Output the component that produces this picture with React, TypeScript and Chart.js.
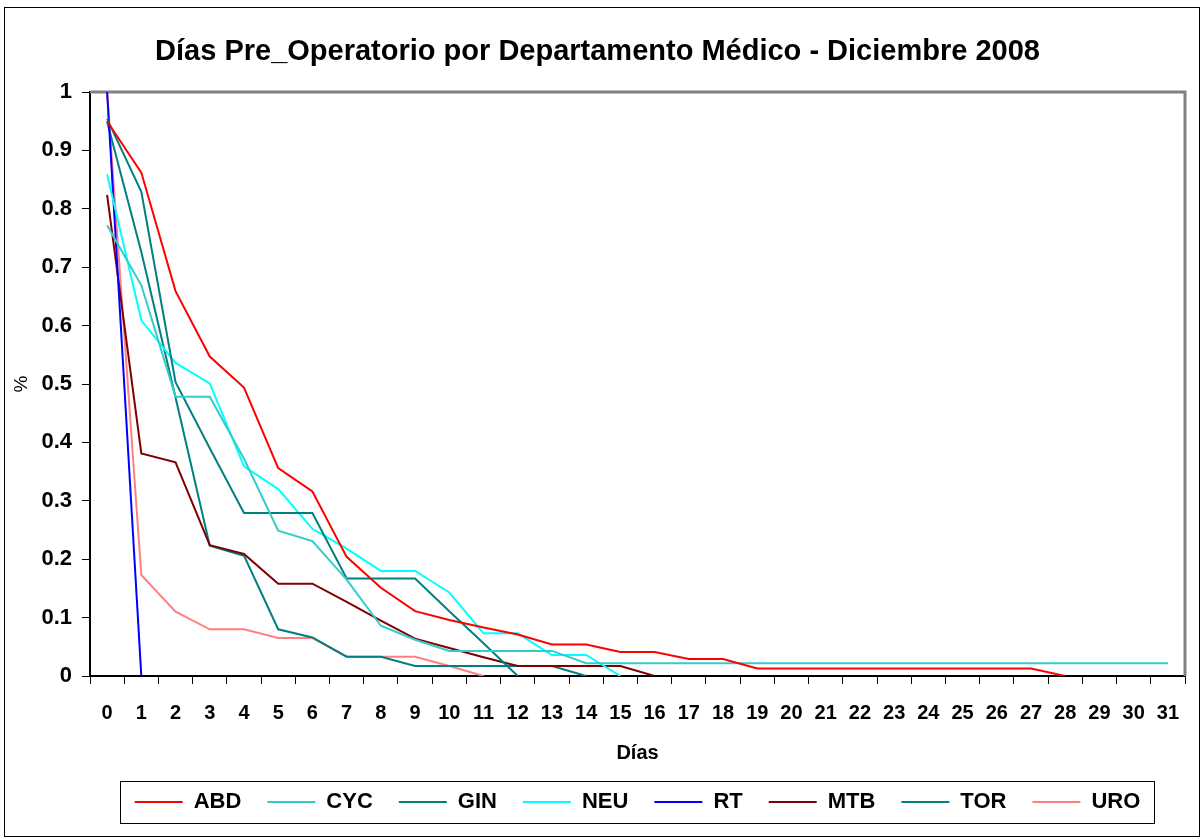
import React, { useEffect, useRef } from "react";
import { Chart, registerables } from "chart.js";

Chart.register(...registerables);

const TITLE = "Días Pre_Operatorio por Departamento Médico - Diciembre 2008";
const X_TITLE = "Días";
const Y_TITLE = "%";

const days = ["0","1","2","3","4","5","6","7","8","9","10","11","12","13","14","15","16","17","18","19","20","21","22","23","24","25","26","27","28","29","30","31"];

const abd = [0.95, 0.862, 0.659, 0.547, 0.494, 0.356, 0.316, 0.204, 0.151, 0.111, 0.096, 0.083, 0.071, 0.054, 0.054, 0.041, 0.041, 0.029, 0.029, 0.013, 0.013, 0.013, 0.013, 0.013, 0.013, 0.013, 0.013, 0.013, 0];
const cyc = [0.772, 0.669, 0.478, 0.478, 0.372, 0.249, 0.231, 0.165, 0.086, 0.062, 0.043, 0.043, 0.043, 0.043, 0.022, 0.022, 0.022, 0.022, 0.022, 0.022, 0.022, 0.022, 0.022, 0.022, 0.022, 0.022, 0.022, 0.022, 0.022, 0.022, 0.022, 0.022];
const gin = [0.954, 0.829, 0.503, 0.39, 0.279, 0.279, 0.279, 0.167, 0.167, 0.167, 0.111, 0.056, 0];
const neu = [0.859, 0.609, 0.536, 0.501, 0.359, 0.32, 0.252, 0.218, 0.18, 0.18, 0.143, 0.073, 0.073, 0.036, 0.036, 0];
const rt = [1, 0];
const mtb = [0.824, 0.381, 0.366, 0.224, 0.209, 0.158, 0.158, 0.127, 0.095, 0.064, 0.048, 0.032, 0.017, 0.017, 0.017, 0.017, 0];
const tor = [0.949, 0.726, 0.477, 0.223, 0.206, 0.08, 0.066, 0.033, 0.033, 0.017, 0.017, 0.017, 0.017, 0.017, 0];
const uro = [1, 0.173, 0.11, 0.08, 0.08, 0.065, 0.065, 0.033, 0.033, 0.033, 0.017, 0];

const seriesNames = ["ABD", "CYC", "GIN", "NEU", "RT", "MTB", "TOR", "URO"];
const seriesData = [abd, cyc, gin, neu, rt, mtb, tor, uro];
const seriesColors = ["#FF0000", "#33CCCC", "#008080", "#00FFFF", "#0000FF", "#800000", "#008080", "#FF8080"];

const FONT = "'Liberation Sans', Arial, Helvetica, sans-serif";

const frameBorderPlugin = {
  id: "frameBorder",
  beforeDatasetsDraw(chart: any) {
    const { ctx, chartArea } = chart;
    ctx.save();
    ctx.strokeStyle = "#808080";
    ctx.lineWidth = 3;
    ctx.beginPath();
    ctx.moveTo(chartArea.left, chartArea.top);
    ctx.lineTo(chartArea.right, chartArea.top);
    ctx.lineTo(chartArea.right, chartArea.bottom);
    ctx.stroke();
    ctx.restore();
  },
  afterDraw(chart: any) {
    const lg = chart.legend;
    if (!lg || !lg.legendHitBoxes || !lg.legendHitBoxes.length) return;
    const hb = lg.legendHitBoxes;
    const first = hb[0];
    const last = hb[hb.length - 1];
    const { ctx } = chart;
    const cy = first.top + first.height / 2;
    const left = first.left - 15;
    const right = last.left + last.width + 13;
    const top = cy - 21;
    const bottom = cy + 21;
    ctx.save();
    ctx.strokeStyle = "#000000";
    ctx.lineWidth = 1;
    ctx.strokeRect(Math.round(left) + 0.5, Math.round(top) + 0.5, Math.round(right - left), Math.round(bottom - top));
    ctx.restore();
  },
};

const yTickLabel = (v: any) => {
  const n = Number(v);
  if (Math.abs(n) < 1e-9) return "0";
  if (Math.abs(n - 1) < 1e-9) return "1";
  return n.toFixed(1);
};

export default function App() {
  const ref = useRef<HTMLCanvasElement | null>(null);

  useEffect(() => {
    if (!ref.current) return;
    const chart = new Chart(ref.current, {
      type: "line",
      data: {
        labels: days,
        datasets: seriesNames.map((name, i) => ({
          label: name,
          data: seriesData[i],
          borderColor: seriesColors[i],
          backgroundColor: seriesColors[i],
          borderWidth: 2,
          pointRadius: 0,
          pointHoverRadius: 0,
          tension: 0,
          fill: false,
          spanGaps: false,
        })),
      },
      options: {
        responsive: false,
        animation: false,
        devicePixelRatio: 1,
        layout: { padding: { left: 10, right: 18, top: 35, bottom: 16 } },
        plugins: {
          title: {
            display: true,
            text: TITLE,
            color: "#000",
            font: { family: FONT, size: 29, weight: "bold" },
            padding: { top: 0, bottom: 22.2 },
          },
          legend: {
            position: "bottom",
            fullSize: false,
            labels: {
              usePointStyle: true,
              pointStyle: "line",
              pointStyleWidth: 48,
              color: "#000",
              font: { family: FONT, size: 22, weight: "bold" },
              padding: 26,
            },
          },
          tooltip: { enabled: false },
        },
        scales: {
          x: {
            type: "category",
            offset: true,
            grid: { offset: true, drawOnChartArea: false, tickLength: 8, color: "#000", lineWidth: 1 },
            border: { color: "#000", width: 2 },
            ticks: {
              color: "#000",
              font: { family: FONT, size: 20, weight: "bold" },
              padding: 17,
              maxRotation: 0,
              autoSkip: false,
            },
            title: {
              display: true,
              text: X_TITLE,
              color: "#000",
              font: { family: FONT, size: 20, weight: "bold" },
              padding: { top: 10, bottom: 0 },
            },
            afterFit: (s: any) => {
              s.height = 89;
            },
          },
          y: {
            min: 0,
            max: 1,
            ticks: {
              stepSize: 0.1,
              color: "#000",
              font: { family: FONT, size: 22, weight: "bold" },
              padding: 10,
              callback: yTickLabel,
            },
            grid: { drawOnChartArea: false, tickLength: 8, color: "#000", lineWidth: 1 },
            border: { color: "#000", width: 2 },
            title: {
              display: true,
              text: Y_TITLE,
              color: "#000",
              font: { family: FONT, size: 19 },
              padding: 0,
            },
            afterFit: (s: any) => {
              s.width = 80;
            },
          },
        },
      } as any,
      plugins: [frameBorderPlugin],
    });
    return () => chart.destroy();
  }, []);

  return (
    <div style={{ position: "absolute", left: 0, top: 0, width: 1203, height: 839, background: "#fff" }}>
      <canvas ref={ref} width={1203} height={839} style={{ position: "absolute", left: 0, top: 0 }} />
      <div
        style={{
          position: "absolute",
          left: 4,
          top: 7,
          width: 1196,
          height: 830,
          border: "1px solid #000",
          boxSizing: "border-box",
          pointerEvents: "none",
        }}
      />
    </div>
  );
}
